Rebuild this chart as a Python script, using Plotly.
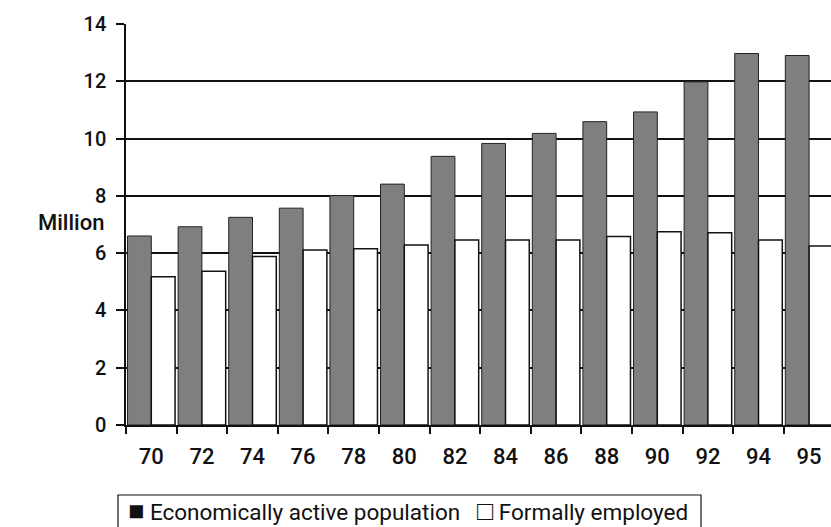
import plotly.graph_objects as go

years = ["70", "72", "74", "76", "78", "80", "82", "84", "86", "88", "90", "92", "94", "95"]
active = [6.60, 6.92, 7.25, 7.57, 8.01, 8.41, 9.38, 9.83, 10.18, 10.59, 10.93, 11.98, 12.97, 12.90]
employed = [5.18, 5.37, 5.88, 6.11, 6.15, 6.28, 6.46, 6.46, 6.46, 6.58, 6.75, 6.71, 6.46, 6.25]
y_ticks = [0, 2, 4, 6, 8, 10, 12, 14]

FONT = "Roboto"
W, H = 831, 527
L, T, B = 126, 24, 102
plot_w = W - L
plot_h = H - T - B


def px_x(x):
    return (x - L) / plot_w


def px_y(y):
    return (H - B - y) / plot_h


fig = go.Figure()
fig.add_trace(go.Bar(
    x=years, y=active, name="Economically active population",
    marker=dict(color="#7f7f7f", line=dict(color="#222222", width=1)),
    showlegend=False,
))
fig.add_trace(go.Bar(
    x=years, y=employed, name="Formally employed",
    marker=dict(color="#ffffff", line=dict(color="#111111", width=1.5)),
    showlegend=False,
))

fig.update_layout(
    width=W, height=H,
    margin=dict(l=L, r=0, t=T, b=B),
    paper_bgcolor="white", plot_bgcolor="white",
    barmode="group", bargap=0.06, bargroupgap=0,
    font=dict(family=FONT, color="#111111"),
)

fig.update_xaxes(
    type="category",
    range=[-0.5, -0.5 + plot_w / 50.6],
    showline=True, linecolor="#111111", linewidth=1.5,
    ticks="outside", tickson="boundaries", ticklen=7, tickcolor="#111111", tickwidth=1.5,
    tickfont=dict(family=FONT, size=22, color="#111111", weight=500),
    ticklabelstandoff=11,
    showgrid=False,
)
fig.update_yaxes(
    range=[0, 14], tickvals=y_ticks,
    showline=True, linecolor="#111111", linewidth=1.5,
    ticks="outside", ticklen=8, tickcolor="#111111", tickwidth=1.5,
    tickfont=dict(family=FONT, size=20, color="#111111", weight=500),
    ticklabelstandoff=6,
    showgrid=True, gridcolor="#111111", gridwidth=1.5,
    zeroline=False,
)

# axis title, set horizontally to the left of the value axis
fig.add_annotation(
    text="Million", xref="paper", yref="paper",
    x=px_x(71), y=px_y(222),
    xanchor="center", yanchor="middle", showarrow=False,
    font=dict(family=FONT, size=22, color="#111111", weight=500),
)

# boxed key below the chart
fig.add_shape(
    type="rect", xref="paper", yref="paper",
    x0=px_x(118), x1=px_x(701), y0=px_y(495), y1=px_y(545),
    line=dict(color="#111111", width=1.2), fillcolor="white", layer="above",
)
key_text = (
    '<span style="font-size:27px">■</span> Economically active population'
    '\u00a0\u00a0\u00a0<span style="font-size:27px">□</span> Formally employed'
)
fig.add_annotation(
    text=key_text,
    xref="paper", yref="paper",
    x=px_x(126), y=px_y(511),
    xanchor="left", yanchor="middle", showarrow=False,
    font=dict(family=FONT, size=22.5, color="#111111"),
)

fig.write_html("out.html")
